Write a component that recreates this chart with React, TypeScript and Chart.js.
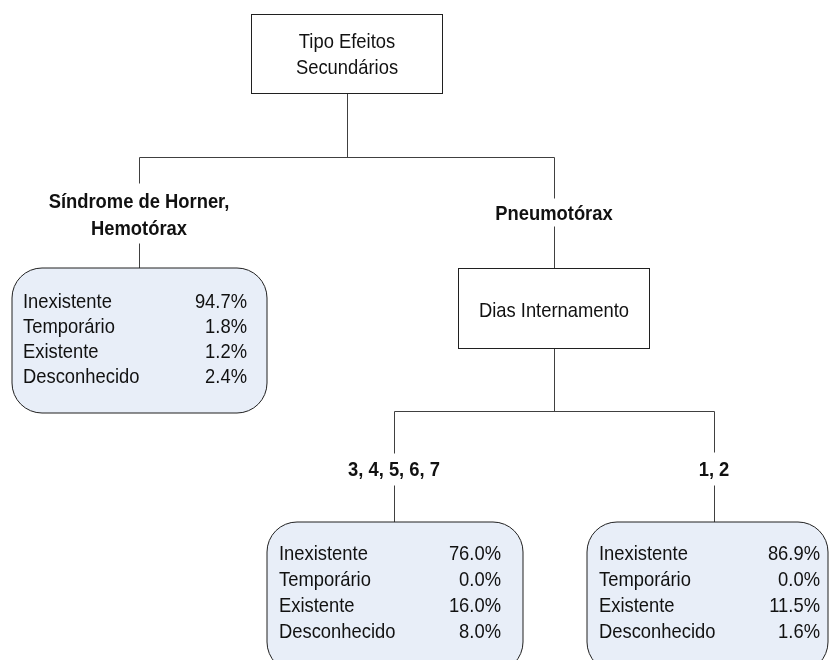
import React, { useEffect, useRef } from "react";
import { Chart, registerables } from "chart.js";

Chart.register(...registerables);

// ---- data ----
const categories = ["Inexistente", "Temporário", "Existente", "Desconhecido"];
const leafHorner = [94.7, 1.8, 1.2, 2.4];
const leafDias3to7 = [76.0, 0.0, 16.0, 8.0];
const leafDias1to2 = [86.9, 0.0, 11.5, 1.6];
const rootTitle = ["Tipo Efeitos", "Secundários"];
const innerTitle = ["Dias Internamento"];
const branchHorner = ["Síndrome de Horner,", "Hemotórax"];
const branchPneumo = ["Pneumotórax"];
const branchDias3to7 = ["3, 4, 5, 6, 7"];
const branchDias1to2 = ["1, 2"];

// ---- layout (data units of a 831 x 660 linear plane) ----
type Box = { x0: number; x1: number; y0: number; y1: number };
const rootBox: Box = { x0: 251, x1: 442, y0: 14, y1: 93 };
const diasBox: Box = { x0: 458, x1: 649, y0: 268, y1: 348 };
const leafBoxA: Box = { x0: 12, x1: 267, y0: 268, y1: 413 };
const leafBoxB: Box = { x0: 267, x1: 523, y0: 522, y1: 672 };
const leafBoxC: Box = { x0: 587, x1: 828, y0: 522, y1: 672 };

const FONT = '"Liberation Sans", Arial, sans-serif';
const FSIZE = 21;
const SX = 0.875;

function App() {
  const ref = useRef<HTMLCanvasElement | null>(null);

  useEffect(() => {
    if (!ref.current) return;

    const treePlugin = {
      id: "tree",
      afterDatasetsDraw(chart: any) {
        const ctx: CanvasRenderingContext2D = chart.ctx;
        const xs = chart.scales.x;
        const ys = chart.scales.y;
        const X = (v: number) => xs.getPixelForValue(v);
        const Y = (v: number) => ys.getPixelForValue(v);
        const cr = (v: number) => Math.round(v) + 0.5;

        const line = (x0: number, y0: number, x1: number, y1: number) => {
          ctx.beginPath();
          ctx.moveTo(cr(X(x0)), cr(Y(y0)));
          ctx.lineTo(cr(X(x1)), cr(Y(y1)));
          ctx.stroke();
        };

        const text = (s: string, x: number, y: number, align: "left" | "right" | "center", bold = false) => {
          ctx.save();
          ctx.font = `${bold ? "bold " : ""}${FSIZE}px ${FONT}`;
          ctx.fillStyle = "#111111";
          ctx.textAlign = align;
          ctx.textBaseline = "alphabetic";
          ctx.translate(X(x), Y(y));
          ctx.scale(SX, 1);
          ctx.fillText(s, 0, 0);
          ctx.restore();
        };

        const rect = (b: Box) => {
          ctx.save();
          ctx.fillStyle = "#ffffff";
          ctx.strokeStyle = "#202020";
          ctx.lineWidth = 1;
          const x0 = cr(X(b.x0)), x1 = cr(X(b.x1)), y0 = cr(Y(b.y0)), y1 = cr(Y(b.y1));
          ctx.fillRect(x0, y0, x1 - x0, y1 - y0);
          ctx.strokeRect(x0, y0, x1 - x0, y1 - y0);
          ctx.restore();
        };

        const rrect = (b: Box, r: number) => {
          ctx.save();
          const x0 = X(b.x0), x1 = X(b.x1), y0 = Y(b.y0), y1 = Y(b.y1);
          ctx.beginPath();
          ctx.moveTo(x0 + r, y0);
          ctx.lineTo(x1 - r, y0);
          ctx.arcTo(x1, y0, x1, y0 + r, r);
          ctx.lineTo(x1, y1 - r);
          ctx.arcTo(x1, y1, x1 - r, y1, r);
          ctx.lineTo(x0 + r, y1);
          ctx.arcTo(x0, y1, x0, y1 - r, r);
          ctx.lineTo(x0, y0 + r);
          ctx.arcTo(x0, y0, x0 + r, y0, r);
          ctx.closePath();
          ctx.fillStyle = "#e8eef8";
          ctx.fill();
          ctx.strokeStyle = "#202020";
          ctx.lineWidth = 1;
          ctx.stroke();
          ctx.restore();
        };

        const leaf = (b: Box, values: number[], firstBase: number, step: number, labelX: number, valueX: number) => {
          rrect(b, 30);
          categories.forEach((c, i) => {
            text(c, labelX, firstBase + i * step, "left");
            text(values[i].toFixed(1) + "%", valueX, firstBase + i * step, "right");
          });
        };

        ctx.save();
        ctx.strokeStyle = "#404040";
        ctx.lineWidth = 1;
        // root connectors
        line(347, rootBox.y1, 347, 157);
        line(139, 157, 554, 157);
        line(139, 157, 139, 183);
        line(139, 243, 139, leafBoxA.y0);
        line(554, 157, 554, 198);
        line(554, 226, 554, diasBox.y0);
        // dias connectors
        line(554, diasBox.y1, 554, 411);
        line(394, 411, 714, 411);
        line(394, 411, 394, 453);
        line(394, 485, 394, leafBoxB.y0);
        line(714, 411, 714, 452);
        line(714, 485, 714, leafBoxC.y0);
        ctx.restore();

        rect(rootBox);
        text(rootTitle[0], 347, 48, "center");
        text(rootTitle[1], 347, 74, "center");

        rect(diasBox);
        text(innerTitle[0], 554, 317, "center");

        text(branchHorner[0], 139, 208, "center", true);
        text(branchHorner[1], 139, 235, "center", true);
        text(branchPneumo[0], 554, 220, "center", true);
        text(branchDias3to7[0], 394, 476, "center", true);
        text(branchDias1to2[0], 714, 476, "center", true);

        leaf(leafBoxA, leafHorner, 308, 25, 23, 247);
        leaf(leafBoxB, leafDias3to7, 560, 26, 279, 501);
        leaf(leafBoxC, leafDias1to2, 560, 26, 599, 820);
      },
    };

    const anchors = [
      { x: 347, y: 53 },
      { x: 554, y: 308 },
      { x: 139, y: 340 },
      { x: 394, y: 590 },
      { x: 714, y: 590 },
    ];

    const chart = new Chart(ref.current, {
      type: "scatter",
      data: {
        datasets: [
          {
            data: anchors,
            pointRadius: 0,
            pointHoverRadius: 0,
          },
        ],
      },
      options: {
        animation: false,
        responsive: false,
        maintainAspectRatio: false,
        events: [],
        layout: { padding: 0 },
        plugins: { legend: { display: false }, tooltip: { enabled: false }, title: { display: false } },
        scales: {
          x: { type: "linear", min: 0, max: 831, display: false },
          y: { type: "linear", min: 0, max: 660, reverse: true, display: false },
        },
      },
      plugins: [treePlugin],
    });
    return () => chart.destroy();
  }, []);

  return (
    <div style={{ position: "absolute", left: 0, top: 0, width: 831, height: 660, background: "#ffffff" }}>
      <canvas ref={ref} width={831} height={660} style={{ display: "block", width: 831, height: 660 }} />
    </div>
  );
}

export default App;
